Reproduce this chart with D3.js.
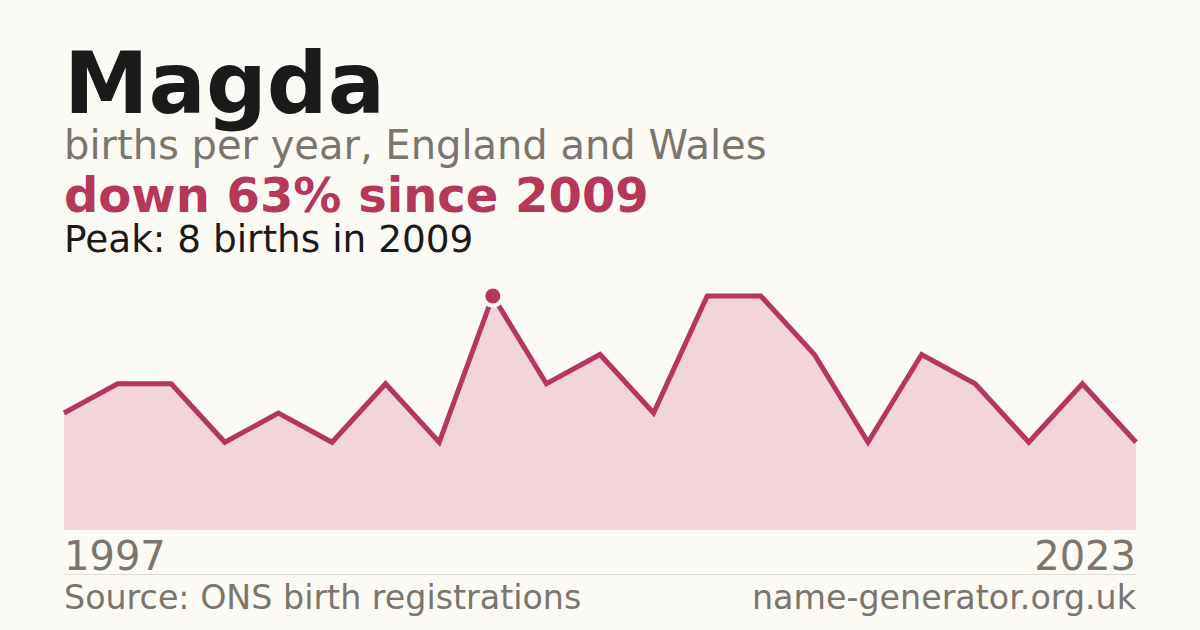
<!DOCTYPE html>
<html lang="en">
<head>
    <meta charset="UTF-8">
    <title>Magda</title>
    <script src="https://d3js.org/d3.v7.min.js"></script>
    <style>
        html, body {
            margin: 0;
            padding: 0;
            background: #fbfaf5;
        }
        svg {
            display: block;
            font-family: "DejaVu Sans", sans-serif;
        }
    </style>
</head>
<body>
    <svg id="chart" width="1200" height="630"></svg>
    <script>
        // years with a published count (ONS suppresses small numbers)
        const years = [1997, 1998, 1999, 2001, 2003, 2005, 2006, 2008, 2009, 2010, 2011,
            2012, 2013, 2014, 2016, 2017, 2018, 2019, 2021, 2022, 2023];
        const births = [4, 5, 5, 3, 4, 3, 5, 3, 8, 5, 6, 4, 8, 8, 6, 3, 6, 5, 3, 5, 3];
        const yearLabels = [1997, 2023];

        const svg = d3.select("#chart");
        const red = "#b5375a";
        const grey = "#7a756d";

        const data = years.map((y, i) => ({ year: y, value: births[i] }));
        const peak = data.reduce((a, b) => b.value > a.value ? b : a);
        const last = data[data.length - 1];
        const change = Math.round((1 - last.value / peak.value) * 100);

        const plotLeft = 64, plotRight = 1136, plotTop = 296, plotBase = 530;

        const x = d3.scalePoint()
            .domain(years)
            .range([plotLeft, plotRight]);

        const y = d3.scaleLinear()
            .domain([0, peak.value])
            .range([plotBase, plotTop]);

        // header
        svg.append("text")
            .attr("x", plotLeft).attr("y", 113)
            .attr("font-size", 85).attr("font-weight", "bold")
            .attr("fill", "#1a1a1a")
            .text("Magda");

        svg.append("text")
            .attr("x", plotLeft).attr("y", 159)
            .attr("font-size", 40)
            .attr("fill", grey)
            .text("births per year, England and Wales");

        svg.append("text")
            .attr("x", plotLeft).attr("y", 212)
            .attr("font-size", 48).attr("font-weight", "bold")
            .attr("fill", red)
            .text(`down ${change}% since ${peak.year}`);

        svg.append("text")
            .attr("x", plotLeft).attr("y", 252)
            .attr("font-size", 37.4)
            .attr("fill", "#1a1a1a")
            .text(`Peak: ${peak.value} births in ${peak.year}`);

        // area + line
        const area = d3.area()
            .x(d => x(d.year))
            .y0(plotBase)
            .y1(d => y(d.value));

        const line = d3.line()
            .x(d => x(d.year))
            .y(d => y(d.value));

        svg.append("path")
            .datum(data)
            .attr("d", area)
            .attr("fill", "#f2d5db");

        svg.append("path")
            .datum(data)
            .attr("d", line)
            .attr("fill", "none")
            .attr("stroke", red)
            .attr("stroke-width", 5);

        svg.append("circle")
            .attr("cx", x(peak.year))
            .attr("cy", y(peak.value))
            .attr("r", 9.5)
            .attr("fill", red)
            .attr("stroke", "#fbfaf5")
            .attr("stroke-width", 4);

        // year labels
        svg.selectAll(".year")
            .data(yearLabels)
            .enter().append("text")
            .attr("class", "year")
            .attr("x", d => x(d))
            .attr("y", 570)
            .attr("font-size", 40)
            .attr("fill", grey)
            .attr("text-anchor", (d, i) => i === 0 ? "start" : "end")
            .text(d => d);

        // footer
        svg.append("line")
            .attr("x1", plotLeft).attr("x2", plotRight)
            .attr("y1", 574.5).attr("y2", 574.5)
            .attr("stroke", "#dedbd3")
            .attr("stroke-width", 1);

        svg.append("text")
            .attr("x", plotLeft).attr("y", 609)
            .attr("font-size", 33.3)
            .attr("fill", grey)
            .text("Source: ONS birth registrations");

        svg.append("text")
            .attr("x", plotRight).attr("y", 609)
            .attr("font-size", 33.3)
            .attr("fill", grey)
            .attr("text-anchor", "end")
            .text("name-generator.org.uk");
    </script>
</body>
</html>
